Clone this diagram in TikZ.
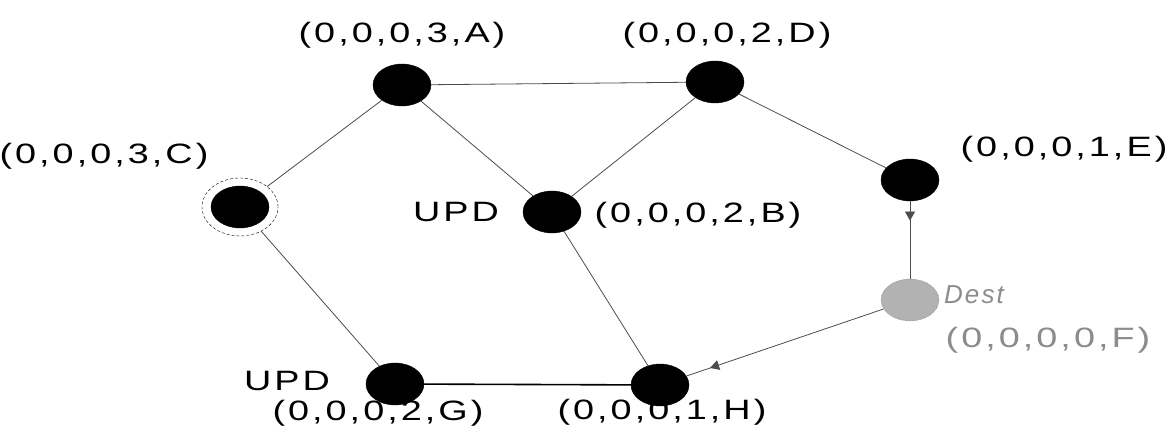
\documentclass[tikz,border=0pt]{standalone}
\usepackage{fontspec}
\setmainfont{Liberation Sans}
\newfontfamily\lblfont[LetterSpace=8]{Liberation Sans}
\newcommand\lbltext[1]{\scalebox{1.35}[1]{#1}}
\usetikzlibrary{shapes.geometric,decorations.markings,arrows.meta}
\begin{document}
\begin{tikzpicture}
[   x=1pt, y=1pt,
    dot/.style={draw=black,fill=#1,ellipse,minimum width=58,minimum height=42,inner sep=0},
    dot/.default=black,
    lbl/.style={font=\lblfont\fontsize{28}{34}\selectfont,inner sep=0},
    link/.style={draw=black!70,line width=0.8},
    fwd/.style={link,postaction={decorate},decoration={markings,
        mark=at position #1 with {\arrow{Triangle[length=9,width=10]}}}},
]
\useasboundingbox (0,0) rectangle (1175,431);

\node[dot] (A) at (402,346) {};
\node[dot] (D) at (715,349) {};
\node[dot] (E) at (910,251) {};
\node[dot] (C) at (240,224) {};
\node[draw, densely dashed, ellipse, minimum width=76, minimum height=58] (Cr) at (240,224) {};
\node[dot] (B) at (552,219) {};
\node[dot={black!30}, draw=black!60, densely dotted] (F) at (910,131) {};
\node[dot] (G) at (395,47) {};
\node[dot] (H) at (660,46) {};

\node[lbl] (lA) at (402,396) {\lbltext{(0,0,0,3,A)}};
\node[lbl] (lD) at (727,396) {\lbltext{(0,0,0,2,D)}};
\node[lbl] (lE) at (1064,282) {\lbltext{(0,0,0,1,E)}};
\node[lbl] (lC) at (104,275) {\lbltext{(0,0,0,3,C)}};
\node[lbl] (uB) at (456,219) {\lbltext{UPD}};
\node[lbl] (lB) at (698,216) {\lbltext{(0,0,0,2,B)}};
\node[lbl, text=black!45, font=\lblfont\itshape\fontsize{26}{30}\selectfont] (dst) at (974,136) {Dest};
\node[lbl, text=black!45] (lF) at (1048,91) {\lbltext{(0,0,0,0,F)}};
\node[lbl] (uG) at (287,50) {\lbltext{UPD}};
\node[lbl] (lG) at (378,18) {\lbltext{(0,0,0,2,G)}};
\node[lbl] (lH) at (662,19) {\lbltext{(0,0,0,1,H)}};

\draw[link] (A) -- (Cr);
\draw[link] (A) -- (D);
\draw[link] (A) -- (B);
\draw[link] (D) -- (B);
\draw[link] (D) -- (E);
\draw[link] (Cr) -- (G);
\draw[link] (B) -- (H);
\draw[link, draw=black, line width=1.6] (G) -- (H);

\draw[fwd=0.25] (E) -- (F);
\draw[fwd=0.88] (F) -- (H);

\end{tikzpicture}
\end{document}
